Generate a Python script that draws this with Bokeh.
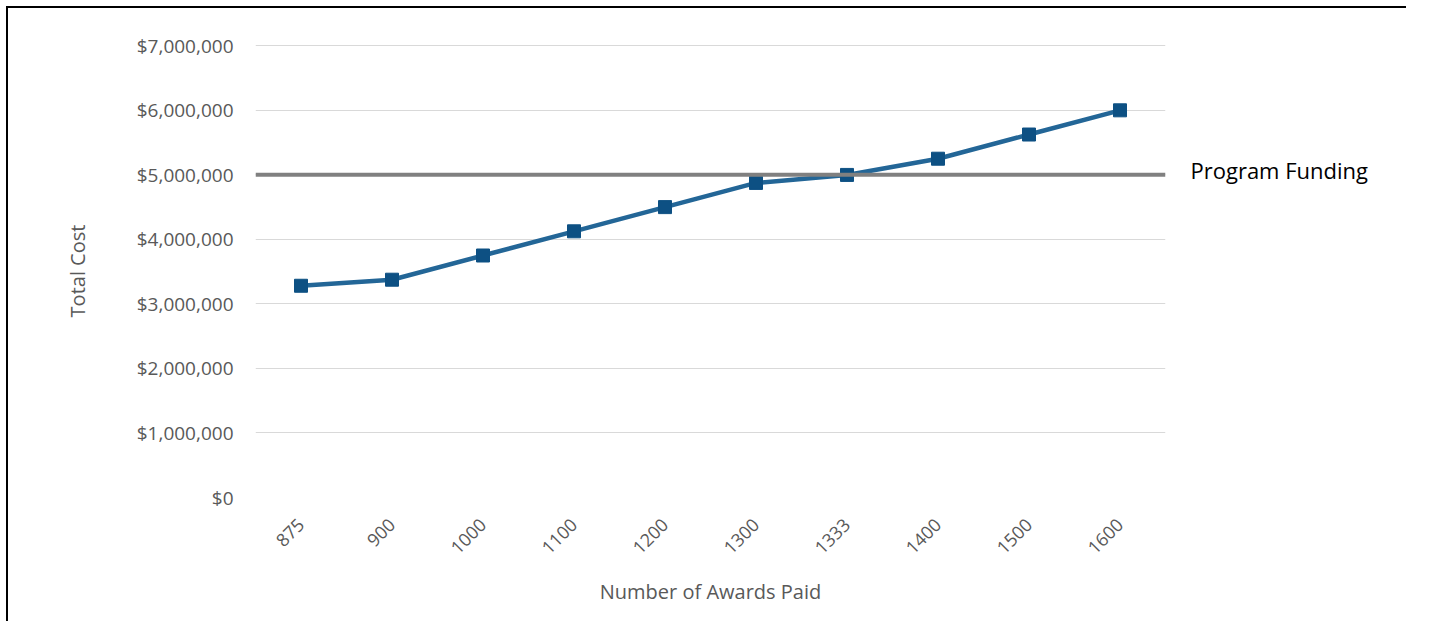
from bokeh.plotting import figure
from bokeh.models import NumeralTickFormatter, Span, LinearAxis, FixedTicker, Range1d
from bokeh.embed import file_html
from bokeh.resources import INLINE
import math

# ---- data ----
awards = ["875", "900", "1000", "1100", "1200", "1300", "1333", "1400", "1500", "1600"]
total_cost = [3281250, 3375000, 3750000, 4125000, 4500000, 4875000, 4998750, 5250000, 5625000, 6000000]
program_funding = 5000000
funding_label = "Program Funding"
y_ticks = [0, 1000000, 2000000, 3000000, 4000000, 5000000, 6000000, 7000000]

FONT = "Open Sans"
GRAY_TXT = "#595959"

Y_START, Y_END = 0, 7020000
FRAME_H = 453
LABEL_LIFT_PX = 5  # raise the "Program Funding" text a few pixels
lift = LABEL_LIFT_PX * (Y_END - Y_START) / FRAME_H

p = figure(
    x_range=awards, y_range=(Y_START, Y_END),
    width=1400, height=615,
    output_backend="svg", toolbar_location=None,
    min_border_left=247, min_border_right=243,
    min_border_top=36, min_border_bottom=126,
    background_fill_color="white", border_fill_color="white",
)
p.extra_y_ranges = {"fund": Range1d(start=Y_START - lift, end=Y_END - lift)}
p.styles = {"border-top": "2px solid black", "border-left": "2px solid black",
            "border-right": "none", "border-bottom": "none",
            "margin-left": "6px", "margin-top": "6px"}
p.outline_line_color = None

# grid
p.xgrid.grid_line_color = None
p.ygrid.grid_line_color = "#d9d9d9"
p.ygrid.grid_line_width = 1

# y axis
p.yaxis.ticker = FixedTicker(ticks=y_ticks)
p.yaxis.formatter = NumeralTickFormatter(format="$0,0")
p.yaxis.axis_line_color = None
p.yaxis.major_tick_line_color = None
p.yaxis.minor_tick_line_color = None
p.yaxis.major_label_standoff = 16
p.yaxis.major_label_text_font = FONT
p.yaxis.major_label_text_font_size = "19px"
p.yaxis.major_label_text_color = GRAY_TXT
p.yaxis.axis_label = "Total Cost"
p.yaxis.axis_label_text_font = FONT
p.yaxis.axis_label_text_font_size = "20px"
p.yaxis.axis_label_text_font_style = "normal"
p.yaxis.axis_label_text_color = GRAY_TXT
p.yaxis.axis_label_standoff = 43

# x axis
p.xaxis.axis_line_color = None
p.xaxis.major_tick_line_color = None
p.xaxis.minor_tick_line_color = None
p.xaxis.major_label_orientation = math.pi / 4
p.xaxis.major_label_standoff = 18
p.xaxis.major_label_text_font = FONT
p.xaxis.major_label_text_font_size = "18px"
p.xaxis.major_label_text_color = GRAY_TXT
p.xaxis.axis_label = "Number of Awards Paid"
p.xaxis.axis_label_text_font = FONT
p.xaxis.axis_label_text_font_size = "20px"
p.xaxis.axis_label_text_font_style = "normal"
p.xaxis.axis_label_text_color = GRAY_TXT
p.xaxis.axis_label_standoff = 15

# series
p.line(awards, total_cost, line_color="#236697", line_width=4.5)
p.scatter(awards, total_cost, marker="square", size=13,
          fill_color="#0d5083", line_color="#0d5083")

# program funding line and its label (right-hand axis with one tick)
p.add_layout(Span(location=program_funding, dimension="width",
                  line_color="#808080", line_width=4))
fund_axis = LinearAxis(y_range_name="fund",
                       ticker=FixedTicker(ticks=[program_funding]),
                       major_label_overrides={program_funding: funding_label},
                       axis_line_color=None, major_tick_line_color=None,
                       minor_tick_line_color=None, major_label_standoff=19,
                       major_label_text_font=FONT, major_label_text_font_size="22px",
                       major_label_text_color="black")
p.add_layout(fund_axis, "right")

open("out.html", "w").write(file_html(p, INLINE))
